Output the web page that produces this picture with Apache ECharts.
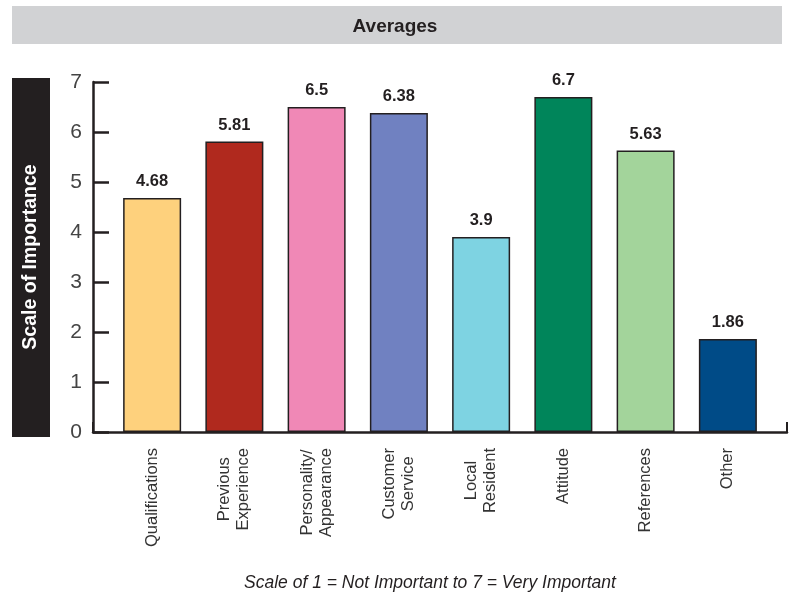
<!DOCTYPE html>
<html>
<head>
<meta charset="utf-8">
<script src="https://cdn.jsdelivr.net/npm/echarts@6/dist/echarts.min.js"></script>
<style>html,body{margin:0;padding:0;background:#fff}#c{width:790px;height:592px}</style>
</head>
<body>
<div id="c"></div>
<script>
const categories = ['Qualifications', 'Previous\nExperience', 'Personality/\nAppearance', 'Customer\nService', 'Local\nResident', 'Attitude', 'References', 'Other'];
const values = [4.68, 5.81, 6.5, 6.38, 3.9, 6.7, 5.63, 1.86];
const barColors = ['#fed17d', '#b0291e', '#f088b6', '#7081c1', '#7ed3e2', '#00855a', '#a3d49b', '#004b87'];
const yMin = 0, yMax = 7, yStep = 1;
const titleText = 'Averages';
const yName = 'Scale of Importance';
const footText = 'Scale of 1 = Not Important to 7 = Very Important';

const chart = echarts.init(document.getElementById('c'), null, {renderer: 'canvas'});
const font = '"Liberation Sans", Arial, sans-serif';

chart.setOption({
  animation: false,
  backgroundColor: '#fff',
  title: [
    {text: titleText, left: 'center', top: 12,
     textStyle: {fontFamily: '"Liberation Sans Narrow", "Liberation Sans", sans-serif', fontWeight: 'bold', fontSize: 19, color: '#231f20'}},
    {text: footText, left: 425, textAlign: 'center', top: 569,
     textStyle: {fontFamily: font, fontStyle: 'italic', fontWeight: 'normal', fontSize: 17.5, color: '#231f20'}}
  ],
  graphic: [
    {type: 'rect', z: -1, shape: {x: 12, y: 6, width: 770, height: 38}, style: {fill: '#d1d2d4'}},
    {type: 'rect', z: -1, shape: {x: 12, y: 78, width: 38, height: 359}, style: {fill: '#231f20'}},
    {type: 'text', x: 31, y: 257, rotation: Math.PI / 2,
     style: {text: yName, fill: '#fff', font: 'bold 19.5px "Liberation Sans", Arial, sans-serif', align: 'center', verticalAlign: 'middle'}}
  ],
  grid: [
    {left: 111, right: 21, top: 82, bottom: 160},
    {left: 93, right: 3, top: 82, bottom: 160}
  ],
  xAxis: [
    {type: 'category', gridIndex: 0, data: categories,
     axisLine: {show: false}, axisTick: {show: false},
     axisLabel: {rotate: 90, margin: 16, interval: 0, color: '#333', fontFamily: font, fontSize: 16.5, lineHeight: 19,
       formatter: v => v.split('\n').map(s => '{c|' + s + '}').join('\n'),
       rich: {c: {align: 'center', fontFamily: font, fontSize: 16.5, lineHeight: 19, color: '#333'}}}},
    {type: 'value', gridIndex: 1, min: 0, max: 1, interval: 1,
     axisLine: {show: true, lineStyle: {color: '#231f20', width: 2.5}},
     axisTick: {show: true, inside: true, length: 10, lineStyle: {color: '#231f20', width: 2}},
     axisLabel: {show: false}, splitLine: {show: false}}
  ],
  yAxis: [
    {type: 'value', gridIndex: 0, min: yMin, max: yMax, interval: yStep, show: false},
    {type: 'value', gridIndex: 1, min: yMin, max: yMax, interval: yStep,
     axisLine: {show: true, lineStyle: {color: '#231f20', width: 2.5}},
     axisTick: {show: true, inside: true, length: 16, lineStyle: {color: '#231f20', width: 2.5}},
     axisLabel: {margin: 11, color: '#444', fontFamily: font, fontSize: 21},
     splitLine: {show: false}}
  ],
  series: [{
    type: 'bar', xAxisIndex: 0, yAxisIndex: 0, barWidth: 58,
    data: values.map((v, i) => ({value: v, itemStyle: {color: barColors[i]}})),
    itemStyle: {borderColor: '#231f20', borderWidth: 1.5},
    label: {show: true, position: 'top', distance: 8, fontFamily: font, fontWeight: 'bold', fontSize: 16.5, color: '#231f20'}
  }]
});
</script>
</body>
</html>
